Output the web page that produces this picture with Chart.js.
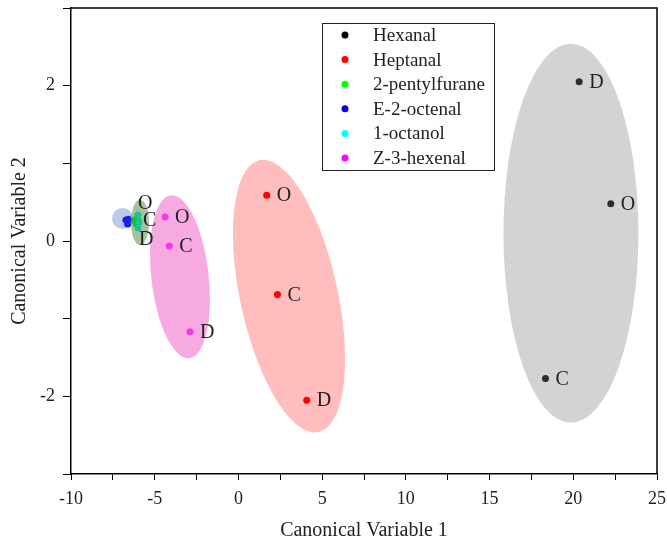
<!DOCTYPE html>
<html>
<head>
<meta charset="utf-8">
<script src="https://cdn.jsdelivr.net/npm/chart.js@4.4.0/dist/chart.umd.min.js"></script>
<style>
  html, body { margin: 0; padding: 0; background: #fff; }
</style>
</head>
<body>
<canvas id="cvaChart" width="667" height="543"></canvas>
<script>
// sample labels, same for every compound
var sampleLabels = ['O', 'C', 'D'];

var compounds = ['Hexanal', 'Heptanal', '2-pentylfurane', 'E-2-octenal', '1-octanol', 'Z-3-hexenal'];
var pointColors = ['#000000', '#ff0000', '#00ff00', '#0000ff', '#00ffff', '#ff00ff'];

// canonical variable 1 / 2 per compound (O, C, D)
var hexanalX = [22.24, 18.34, 20.35];
var hexanalY = [0.48, -1.77, 2.05];
var heptanalX = [1.69, 2.33, 4.08];
var heptanalY = [0.59, -0.69, -2.05];
var pentylfuraneX = [-6.2, -6.05, -6.1];
var pentylfuraneY = [0.26, 0.30, 0.22];
var octenalX = [-6.72, -6.58, -6.62];
var octenalY = [0.27, 0.28, 0.22];
var octanolX = [-6.0, -5.94, -6.0];
var octanolY = [0.335, 0.245, 0.17];
var hexenalX = [-4.38, -4.13, -2.89];
var hexenalY = [0.31, -0.065, -1.17];

// confidence ellipses (data units): centre, half width, half height, tilt (correlation)
var ellipseCx = [19.86, 3.02, -3.49, -6.92, -5.88];
var ellipseCy = [0.10, -0.71, -0.46, 0.29, 0.24];
var ellipseHalfX = [4.03, 3.35, 1.79, 0.63, 0.54];
var ellipseHalfY = [2.44, 1.755, 1.05, 0.135, 0.29];
var ellipseTilt = [0, -0.46, -0.27, 0, 0];
var ellipseColors = ['rgba(128,128,128,0.35)', 'rgba(255,0,0,0.26)', 'rgba(240,100,200,0.55)',
                     'rgba(60,100,200,0.35)', 'rgba(60,120,40,0.45)'];

// tick labels
var xMajorTicks = [-10, -5, 0, 5, 10, 15, 20, 25];
var yMajorTicks = [-2, 0, 2];

var seriesX = [hexanalX, heptanalX, pentylfuraneX, octenalX, octanolX, hexenalX];
var seriesY = [hexanalY, heptanalY, pentylfuraneY, octenalY, octanolY, hexenalY];

// which series get O/C/D text, and where (px offset from the point)
var labelShown = [true, true, false, false, true, true];
var labelOffsets = {
    4: [[0, -11], [4, -1], [1, 12]]
};

var serif = 'Liberation Serif, Times New Roman, serif';

var datasets = compounds.map(function(name, i) {
    return {
        label: name,
        data: seriesX[i].map(function(x, j) { return { x: x, y: seriesY[i][j] }; }),
        backgroundColor: pointColors[i],
        borderWidth: 0,
        pointRadius: 3.5,
        order: i === 4 ? 0 : 1
    };
});

var ellipsePlugin = {
    id: 'ellipses',
    afterDatasetsDraw: function(chart) {
        var ctx = chart.ctx, area = chart.chartArea;
        var xs = chart.scales.x, ys = chart.scales.y;
        var sx = xs.getPixelForValue(1) - xs.getPixelForValue(0);
        var sy = ys.getPixelForValue(0) - ys.getPixelForValue(1);
        ctx.save();
        ctx.beginPath();
        ctx.rect(area.left, area.top, area.right - area.left, area.bottom - area.top);
        ctx.clip();
        ellipseCx.forEach(function(cx, i) {
            var hx = ellipseHalfX[i], hy = ellipseHalfY[i], r = ellipseTilt[i];
            ctx.save();
            ctx.transform(sx * hx, -sy * r * hy, 0, -sy * Math.sqrt(1 - r * r) * hy,
                          xs.getPixelForValue(cx), ys.getPixelForValue(ellipseCy[i]));
            ctx.beginPath();
            ctx.arc(0, 0, 1, 0, Math.PI * 2);
            ctx.restore();
            ctx.fillStyle = ellipseColors[i];
            ctx.fill();
        });

        // O / C / D labels
        ctx.fillStyle = '#222';
        ctx.font = '20px ' + serif;
        ctx.textAlign = 'left';
        ctx.textBaseline = 'middle';
        chart.data.datasets.forEach(function(ds, i) {
            if (!labelShown[i]) return;
            var meta = chart.getDatasetMeta(i);
            meta.data.forEach(function(pt, j) {
                var off = labelOffsets[i] ? labelOffsets[i][j] : [10, 1];
                ctx.fillText(sampleLabels[j], pt.x + off[0], pt.y + off[1]);
            });
        });
        ctx.restore();
    },
    afterDraw: function(chart) {
        var ctx = chart.ctx, area = chart.chartArea;
        ctx.save();
        // top and right frame
        ctx.strokeStyle = '#000';
        ctx.lineWidth = 1.5;
        ctx.beginPath();
        ctx.moveTo(area.left, area.top);
        ctx.lineTo(area.right, area.top);
        ctx.lineTo(area.right, area.bottom);
        ctx.stroke();

        // legend box
        var lx = area.left + 251, ly = area.top + 15, lw = 172, lh = 147;
        ctx.fillStyle = '#fff';
        ctx.fillRect(lx, ly, lw, lh);
        ctx.lineWidth = 1;
        ctx.strokeStyle = '#222';
        ctx.strokeRect(lx + 0.5, ly + 0.5, lw, lh);
        ctx.font = '19px ' + serif;
        ctx.textBaseline = 'middle';
        ctx.textAlign = 'left';
        chart.data.datasets.forEach(function(ds, i) {
            var rowY = ly + 12 + i * 24.6;
            ctx.fillStyle = ds.backgroundColor;
            ctx.beginPath();
            ctx.arc(lx + 23, rowY, 3.5, 0, Math.PI * 2);
            ctx.fill();
            ctx.fillStyle = '#222';
            ctx.fillText(ds.label, lx + 51, rowY + 1);
        });
        ctx.restore();
    }
};

var ctx = document.getElementById('cvaChart').getContext('2d');
var chart = new Chart(ctx, {
    type: 'scatter',
    data: { datasets: datasets },
    options: {
        responsive: false,
        animation: false,
        layout: { padding: { top: 8, right: 10, left: 0, bottom: 0 } },
        scales: {
            x: {
                type: 'linear',
                min: -10,
                max: 25,
                afterFit: function(scale) {
                    scale.height = 69;
                    scale.paddingLeft = 0;
                    scale.paddingRight = 0;
                },
                ticks: {
                    stepSize: 2.5,
                    autoSkip: false,
                    maxRotation: 0,
                    padding: 8,
                    color: '#222',
                    font: { family: serif, size: 18 },
                    callback: function(v) { return xMajorTicks.indexOf(v) >= 0 ? String(v) : ''; }
                },
                grid: { drawOnChartArea: false, tickLength: 6, color: '#000', lineWidth: 1 },
                border: { color: '#000', width: 1.5 },
                title: {
                    display: true,
                    text: 'Canonical Variable 1',
                    color: '#222',
                    font: { family: serif, size: 20 },
                    padding: { top: 0, bottom: 0 }
                }
            },
            y: {
                type: 'linear',
                min: -3,
                max: 3,
                afterFit: function(scale) {
                    scale.width = 71;
                    scale.paddingTop = 0;
                    scale.paddingBottom = 0;
                },
                ticks: {
                    stepSize: 1,
                    autoSkip: false,
                    padding: 8,
                    color: '#222',
                    font: { family: serif, size: 18 },
                    callback: function(v) { return yMajorTicks.indexOf(v) >= 0 ? String(v) : ''; }
                },
                grid: { drawOnChartArea: false, tickLength: 8, color: '#000', lineWidth: 1 },
                border: { color: '#000', width: 1.5 },
                title: {
                    display: true,
                    text: 'Canonical Variable 2',
                    color: '#222',
                    font: { family: serif, size: 20 },
                    padding: { top: 8, bottom: 0 }
                }
            }
        },
        plugins: {
            legend: { display: false },
            tooltip: { enabled: false }
        }
    },
    plugins: [ellipsePlugin]
});
</script>
</body>
</html>
